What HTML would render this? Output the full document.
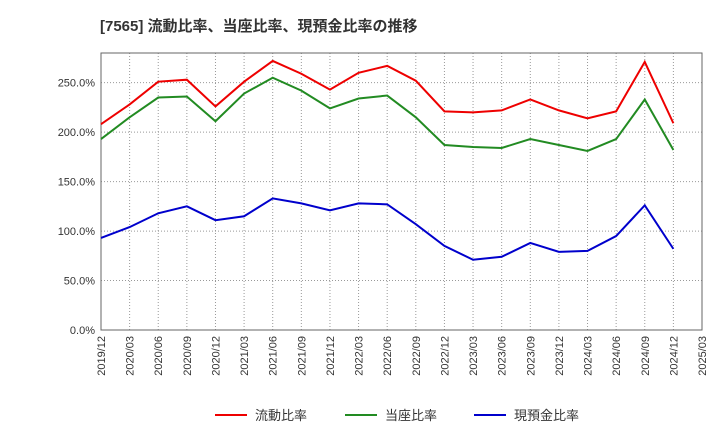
<!DOCTYPE html>
<html><head><meta charset="utf-8"><style>
body{margin:0;background:#fff;font-family:"Liberation Sans","Noto Sans CJK JP",sans-serif;}
</style></head><body>
<svg width="720" height="440" xmlns="http://www.w3.org/2000/svg">
<text x="100" y="31" font-size="15" font-weight="bold" fill="#333" font-family="Liberation Sans, Noto Sans CJK JP, sans-serif">[7565]  流動比率、当座比率、現預金比率の推移</text>
<g id="grid"></g><g id="axes"></g><g id="series"></g><g id="legend"></g>
</svg>
<script>
const categories=["2019/12","2020/03","2020/06","2020/09","2020/12","2021/03","2021/06","2021/09","2021/12","2022/03","2022/06","2022/09","2022/12","2023/03","2023/06","2023/09","2023/12","2024/03","2024/06","2024/09","2024/12","2025/03"];
const currentRatio=[208,228,251,253,226,251,272,259,243,260,267,252,221,220,222,233,222,214,221,271,209];
const quickRatio=[193,215,235,236,211,239,255,242,224,234,237,215,187,185,184,193,187,181,193,233,182];
const cashRatio=[93,104,118,125,111,115,133,128,121,128,127,107,85,71,74,88,79,80,95,126,82];
const yTicks=[0,50,100,150,200,250];
const seriesNames=["流動比率","当座比率","現預金比率"];
const colors=["#e00","#228b22","#00c"];
const L=101,R=702,T=53,B=330,yMax=280;
const ns="http://www.w3.org/2000/svg";
const x=i=>L+i*(R-L)/(categories.length-1);
const y=v=>B-v*(B-T)/yMax;
function mk(tag,attrs,parent){const e=document.createElementNS(ns,tag);for(const k in attrs)e.setAttribute(k,attrs[k]);document.getElementById(parent).appendChild(e);return e;}
yTicks.forEach(v=>{
 const g=mk("line",{x1:L,x2:R,y1:y(v),y2:y(v),stroke:"#999","stroke-dasharray":"1,2","stroke-width":1},"grid");
 
 
 const t=mk("text",{x:L-6,y:y(v)+4,"text-anchor":"end","font-size":11,fill:"#333"},"axes");
 t.textContent=v.toFixed(1)+"%";
 
 
});
categories.forEach((c,i)=>{
 const g=mk("line",{x1:x(i),x2:x(i),y1:T,y2:B,stroke:"#999","stroke-dasharray":"1,2","stroke-width":1},"grid");
 
 
 const t=mk("text",{transform:`translate(${x(i)+4},${B+6}) rotate(-90)`,"text-anchor":"end","font-size":11,fill:"#333"},"axes");
 t.textContent=c;
 
 
});
const frame=mk("rect",{x:L,y:T,width:R-L,height:B-T,fill:"none",stroke:"#666","stroke-width":1},"axes");


[currentRatio,quickRatio,cashRatio].forEach((d,s)=>{
 const p=mk("polyline",{points:d.map((v,i)=>x(i)+","+y(v)).join(" "),fill:"none",stroke:colors[s],"stroke-width":2},"series");
 
 
 const lx=[215,345,474][s];
 const ll=mk("line",{x1:lx,x2:lx+32,y1:415,y2:415,stroke:colors[s],"stroke-width":2},"legend");
 
 
 const lt=mk("text",{x:lx+40,y:420,"font-size":13,fill:"#333"},"legend");
 lt.textContent=seriesNames[s];
 
 
});
</script>
</body></html>
